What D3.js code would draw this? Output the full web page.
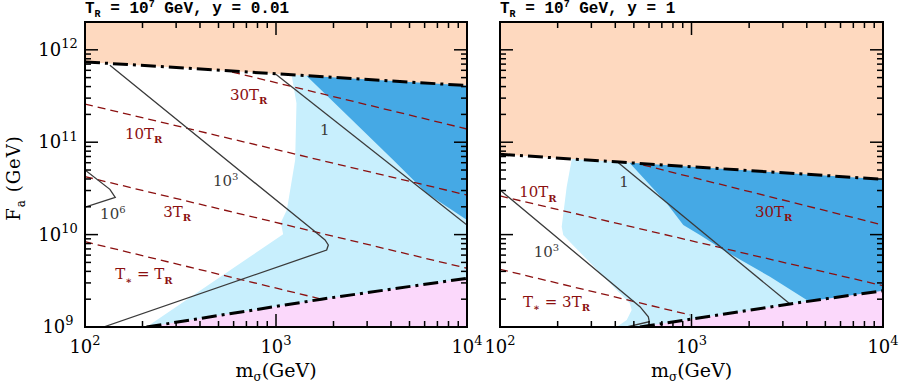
<!DOCTYPE html>
<html>
<head>
<meta charset="utf-8">
<script src="https://cdn.jsdelivr.net/npm/d3@7"></script>
<style>
body { margin: 0; background: #fff; }
svg { display: block; }
</style>
</head>
<body>
<svg id="chart" width="899" height="387"></svg>
<script>
// axis domains (GeV)
var mDomain = [1e2, 1e4],
    faDomain = [1e9, 2e12];

var titleA = "T_R = 10^7 GeV, y = 0.01",
    titleB = "T_R = 10^7 GeV, y = 1";

// ---- left panel, y = 0.01 : [m_sigma, F_a]
var peachEdgeA = [[100, 7.4e11], [1e4, 4.1e11]];
var pinkEdgeA = [[210, 1.0e9], [1730, 2.0e9], [1e4, 3.37e9]];
var lightEdgeA = [[1210, 5.2e11], [1280, 2.64e11], [1260, 6.4e10], [1140, 1.85e10], [1060, 1.35e10], [1090, 1.01e10], [210, 1.0e9]];
var darkEdgeA = [[1448, 5.2e11], [2210, 2.23e11], [4110, 6.4e10], [6150, 2.8e10], [1e4, 1.44e10]];
var contour1A = [[990, 5.5e11], [1e4, 1.27e10]];
var contour1e3A = [[135, 6.8e11], [1563, 1.12e10], [1806, 8.74e9], [1879, 7.72e9], [1842, 6.81e9], [125, 1.0e9]];
var contour1e6A = [[100, 5.0e10], [135, 3.09e10], [144, 2.53e10], [100, 1.98e10]];
var tr30A = [[589, 5.75e11], [1e4, 1.39e11]];
var tr10A = [[100, 2.59e11], [1e4, 2.68e10]];
var tr3A = [[100, 4.24e10], [1e4, 4.32e9]];
var tr1A = [[100, 8.38e9], [1734, 2.0e9]];
var redLabelsA = [[574, 2.86e11, "30T_R"], [162, 1.08e11, "10T_R"], [257, 1.54e10, "3T_R"], [144, 3.28e9, "T_* = T_R"]];
var grayLabelsA = [[1700, 1.2e11, "1"], [468, 3.36e10, "10^3"], [120, 1.46e10, "10^6"]];

// ---- right panel, y = 1
var peachEdgeB = [[100, 7.4e10], [1e4, 3.97e10]];
var pinkEdgeB = [[538, 1.0e9], [3400, 1.8e9], [1e4, 2.47e9]];
var lightEdgeB = [[237, 6.53e10], [223, 3.3e10], [210, 1.22e10], [214, 9.9e9], [240, 7.72e9], [477, 1.8e9], [487, 1.53e9], [459, 1.19e9], [406, 1.0e9]];
var darkEdgeB = [[477, 5.91e10], [742, 2.18e10], [906, 1.27e10], [1107, 9.9e9], [1466, 6.81e9], [2570, 3.5e9], [4000, 1.96e9], [4690, 1.53e9]];
var contour1B = [[415, 6.0e10], [3270, 1.77e9]];
var contour1e3B = [[100, 3.04e10], [538, 1.66e9], [595, 1.29e9], [602, 1.14e9], [459, 1.0e9]];
var tr30B = [[560, 5.66e10], [1e4, 1.27e10]];
var tr10B = [[100, 2.62e10], [1e4, 2.8e9]];
var tr3B = [[100, 4.21e9], [982, 1.35e9]];
var redLabelsB = [[126, 2.53e10, "10T_R"], [2146, 1.56e10, "30T_R"], [132, 1.66e9, "T_* = 3T_R"]];
var grayLabelsB = [[420, 3.3e10, "1"], [150, 5.68e9, "10^3"]];

var PEACH = "#fed9bf",
    PINK = "#fbd8fb",
    LIGHT = "#c8effd",
    DARK = "#45a9e5",
    RED = "#8b1010",
    GRAY = "#3a3a3a",
    SERIF = "'DejaVu Serif', serif";

var svg = d3.select("#chart");

// text with _x / ^x / ^{xx} sub- and superscripts
function rich(sel, str, size, small) {
    var parts = str.match(/[_^]\{[^}]*\}|[_^].|[^_^]+/g),
        prev = 0;
    parts.forEach(function (p) {
        var span = sel.append("tspan"),
            off = 0,
            txt = p;
        if (p[0] === "_" || p[0] === "^") {
            txt = p.slice(1).replace(/[{}]/g, "");
            off = p[0] === "_" ? size * 0.28 : -size * 0.42;
            span.attr("font-size", small);
            if (txt === "*") {
                txt = "\u2217";
                span.attr("font-weight", "bold");
            }
            if (txt === "R") {
                span.attr("font-weight", "bold");
            }
        }
        span.text(txt).attr("dy", off - prev);
        prev = off;
    });
}

function isDecade(v) {
    var l = Math.log10(v);
    return Math.abs(l - Math.round(l)) < 1e-6;
}

function drawPanel(p) {
    var x = d3.scaleLog().domain(mDomain).range(p.range),
        y = d3.scaleLog().domain(faDomain).range([327, 22]),
        x0 = p.range[0], x1 = p.range[1], y0 = 22, y1 = 327,
        mMin = mDomain[0], mMax = mDomain[1], fMin = faDomain[0], fMax = faDomain[1],
        line = d3.line().x(function (d) { return x(d[0]); }).y(function (d) { return y(d[1]); }),
        g = svg.append("g"),
        area;

    g.append("clipPath").attr("id", p.id)
        .append("rect").attr("x", x0).attr("y", y0).attr("width", x1 - x0).attr("height", y1 - y0);
    area = g.append("g").attr("clip-path", "url(#" + p.id + ")");

    //filled regions
    area.append("path")
        .attr("d", line([[p.light[0][0], fMax]].concat(p.light, [[mMax, fMin], [mMax, fMax]])) + "Z")
        .attr("fill", LIGHT);
    area.append("path")
        .attr("d", line([[p.dark[0][0], fMax]].concat(p.dark, [[mMax, fMin], [mMax, fMax]])) + "Z")
        .attr("fill", DARK);

    //T* lines
    p.dashed.forEach(function (d) {
        area.append("path").attr("d", line(d))
            .attr("fill", "none").attr("stroke", RED)
            .attr("stroke-width", 1.3).attr("stroke-dasharray", "8,5");
    });
    //contours
    p.contours.forEach(function (d) {
        area.append("path").attr("d", line(d))
            .attr("fill", "none").attr("stroke", GRAY).attr("stroke-width", 1.3);
    });

    area.append("path")
        .attr("d", line(p.pink.concat([[mMax, fMin]])) + "Z")
        .attr("fill", PINK);
    area.append("path")
        .attr("d", line([[mMin, fMax]].concat(p.peach, [[mMax, fMax]])) + "Z")
        .attr("fill", PEACH);

    //bounding dash-dot curves
    [p.peach, p.pink].forEach(function (d) {
        area.append("path").attr("d", line(d))
            .attr("fill", "none").attr("stroke", "#000")
            .attr("stroke-width", 3).attr("stroke-dasharray", "15,5,3,5");
    });

    //labels
    p.redLabels.forEach(function (d) {
        var t = g.append("text").attr("x", x(d[0])).attr("y", y(d[1]))
            .attr("font-family", SERIF).attr("font-size", 15).attr("fill", RED);
        rich(t, d[2], 15, 10);
    });
    p.grayLabels.forEach(function (d) {
        var t = g.append("text").attr("x", x(d[0])).attr("y", y(d[1]))
            .attr("font-family", SERIF).attr("font-size", 15).attr("fill", GRAY);
        rich(t, d[2], 15, 10);
    });

    //frame and ticks
    g.append("rect").attr("x", x0).attr("y", y0).attr("width", x1 - x0).attr("height", y1 - y0)
        .attr("fill", "none").attr("stroke", "#000").attr("stroke-width", 2);

    x.ticks().filter(function (t) { return t > mMin && t < mMax; }).forEach(function (t) {
        var len = isDecade(t) ? 13 : 6;
        g.append("line").attr("x1", x(t)).attr("x2", x(t)).attr("y1", y1).attr("y2", y1 - len);
        g.append("line").attr("x1", x(t)).attr("x2", x(t)).attr("y1", y0).attr("y2", y0 + len);
    });
    y.ticks().filter(function (t) { return t > fMin * 1.001 && t < fMax * 0.999; }).forEach(function (t) {
        var len = isDecade(t) ? 13 : 6;
        g.append("line").attr("y1", y(t)).attr("y2", y(t)).attr("x1", x0).attr("x2", x0 + len);
        g.append("line").attr("y1", y(t)).attr("y2", y(t)).attr("x1", x1).attr("x2", x1 - len);
    });
    g.selectAll("line").attr("stroke", "#000").attr("stroke-width", 1.5);

    //tick labels
    x.ticks().filter(isDecade).forEach(function (t) {
        var tl = g.append("text").attr("x", x(t)).attr("y", 353)
            .attr("text-anchor", "middle").attr("font-family", SERIF).attr("font-size", 18);
        rich(tl, "10^{" + Math.round(Math.log10(t)) + "}", 18, 13);
    });
    if (p.yLabels) {
        y.ticks().filter(isDecade).forEach(function (t) {
            var tl = g.append("text").attr("x", 58).attr("y", y(t) + 6)
                .attr("text-anchor", "middle").attr("font-family", SERIF).attr("font-size", 18);
            rich(tl, "10^{" + Math.round(Math.log10(t)) + "}", 18, 13);
        });
        var yl = g.append("text").attr("transform", "translate(20,178) rotate(-90)")
            .attr("text-anchor", "middle").attr("font-family", SERIF).attr("font-size", 18)
            .attr("letter-spacing", 1);
        rich(yl, "F_a (GeV)", 18, 12);
    }

    var xl = g.append("text").attr("x", (x0 + x1) / 2).attr("y", 377)
        .attr("text-anchor", "middle").attr("font-family", SERIF).attr("font-size", 19);
    rich(xl, "m_\u03c3(GeV)", 13, 12);

    var tt = g.append("text").attr("x", x0).attr("y", 13)
        .attr("font-family", "'Liberation Mono', monospace").attr("font-weight", "bold")
        .attr("font-size", 16).style("white-space", "pre");
    rich(tt, p.title, 15, 10);
}

drawPanel({
    id: "clipA", range: [85, 467], title: titleA, yLabels: true,
    peach: peachEdgeA, pink: pinkEdgeA, light: lightEdgeA, dark: darkEdgeA,
    contours: [contour1A, contour1e3A, contour1e6A],
    dashed: [tr30A, tr10A, tr3A, tr1A],
    redLabels: redLabelsA, grayLabels: grayLabelsA
});
drawPanel({
    id: "clipB", range: [500, 883], title: titleB, yLabels: false,
    peach: peachEdgeB, pink: pinkEdgeB, light: lightEdgeB, dark: darkEdgeB,
    contours: [contour1B, contour1e3B],
    dashed: [tr30B, tr10B, tr3B],
    redLabels: redLabelsB, grayLabels: grayLabelsB
});
</script>
</body>
</html>
